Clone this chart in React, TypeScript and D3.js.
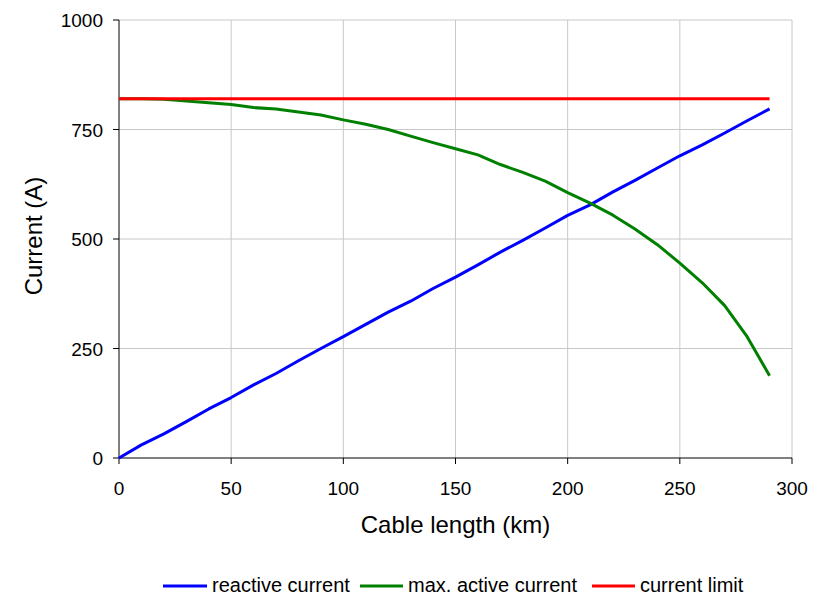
import React from "react";
import * as d3 from "d3";

const lengths = [0,10,20,30,40,50,60,70,80,90,100,110,120,130,140,150,160,170,180,190,200,210,220,230,240,250,260,270,280,290];
const reactive = [0,30,55,83,112,138,167,193,222,250,277,305,333,358,387,413,441,470,497,525,554,578,607,634,662,690,715,742,770,797];
const active = [820,820,819,815,811,807,800,797,790,783,772,762,750,735,720,706,692,670,652,632,606,582,555,523,487,445,400,348,277,188];
const limit = lengths.map(() => 820);
const xTicks = [0,50,100,150,200,250,300];
const yTicks = [0,250,500,750,1000];
const seriesNames = ["reactive current", "max. active current", "current limit"];
const seriesColors = ["#0000ff", "#008000", "#ff0000"];

export default function App() {
  const W = 819, H = 595;
  const x = d3.scaleLinear().domain([0, 300]).range([119, 792]);
  const y = d3.scaleLinear().domain([0, 1000]).range([458, 20]);
  const line = d3.line<[number, number]>().x(d => x(d[0])).y(d => y(d[1]));
  const data = [reactive, active, limit];
  const font = "'Liberation Sans', Arial, sans-serif";
  const legendItems = [
    { lx: 163, lw: 44, tx: 212 },
    { lx: 360, lw: 43, tx: 408 },
    { lx: 592, lw: 43, tx: 640 },
  ];
  return (
    <svg width={W} height={H} style={{ position: "absolute", left: 0, top: 0, background: "#fff" }} fontFamily={font}>
      {xTicks.slice(1).map(t => (
        <line key={"gx" + t} x1={x(t)} x2={x(t)} y1={y(1000)} y2={y(0)} stroke="#c8c8c8" strokeWidth={1} />
      ))}
      {yTicks.slice(1).map(t => (
        <line key={"gy" + t} x1={x(0)} x2={x(300)} y1={y(t)} y2={y(t)} stroke="#c8c8c8" strokeWidth={1} />
      ))}
      <line x1={x(0)} x2={x(0)} y1={y(1000)} y2={y(0)} stroke="#000" strokeWidth={1} />
      <line x1={x(0)} x2={x(300)} y1={y(0)} y2={y(0)} stroke="#000" strokeWidth={1} />
      {xTicks.map(t => (
        <g key={"xt" + t}>
          <line x1={x(t)} x2={x(t)} y1={y(0)} y2={y(0) + 6} stroke="#000" />
          <text x={x(t)} y={495} textAnchor="middle" fontSize={19}>{t}</text>
        </g>
      ))}
      {yTicks.map(t => (
        <g key={"yt" + t}>
          <line x1={x(0) - 6} x2={x(0)} y1={y(t)} y2={y(t)} stroke="#000" />
          <text x={x(0) - 16} y={y(t) + 7} textAnchor="end" fontSize={19}>{t}</text>
        </g>
      ))}
      {data.map((vals, i) => (
        <path key={"s" + i} d={line(lengths.map((l, j) => [l, vals[j]] as [number, number])) || ""} fill="none" stroke={seriesColors[i]} strokeWidth={3} strokeLinejoin="round" />
      ))}
      <text x={(x(0) + x(300)) / 2} y={533} textAnchor="middle" fontSize={24}>Cable length (km)</text>
      <text transform={`translate(42,236) rotate(-90)`} textAnchor="middle" fontSize={24}>Current (A)</text>
      {legendItems.map((it, i) => (
        <g key={"lg" + i}>
          <line x1={it.lx} x2={it.lx + it.lw} y1={586} y2={586} stroke={seriesColors[i]} strokeWidth={3} />
          <text x={it.tx} y={592} fontSize={20}>{seriesNames[i]}</text>
        </g>
      ))}
    </svg>
  );
}
